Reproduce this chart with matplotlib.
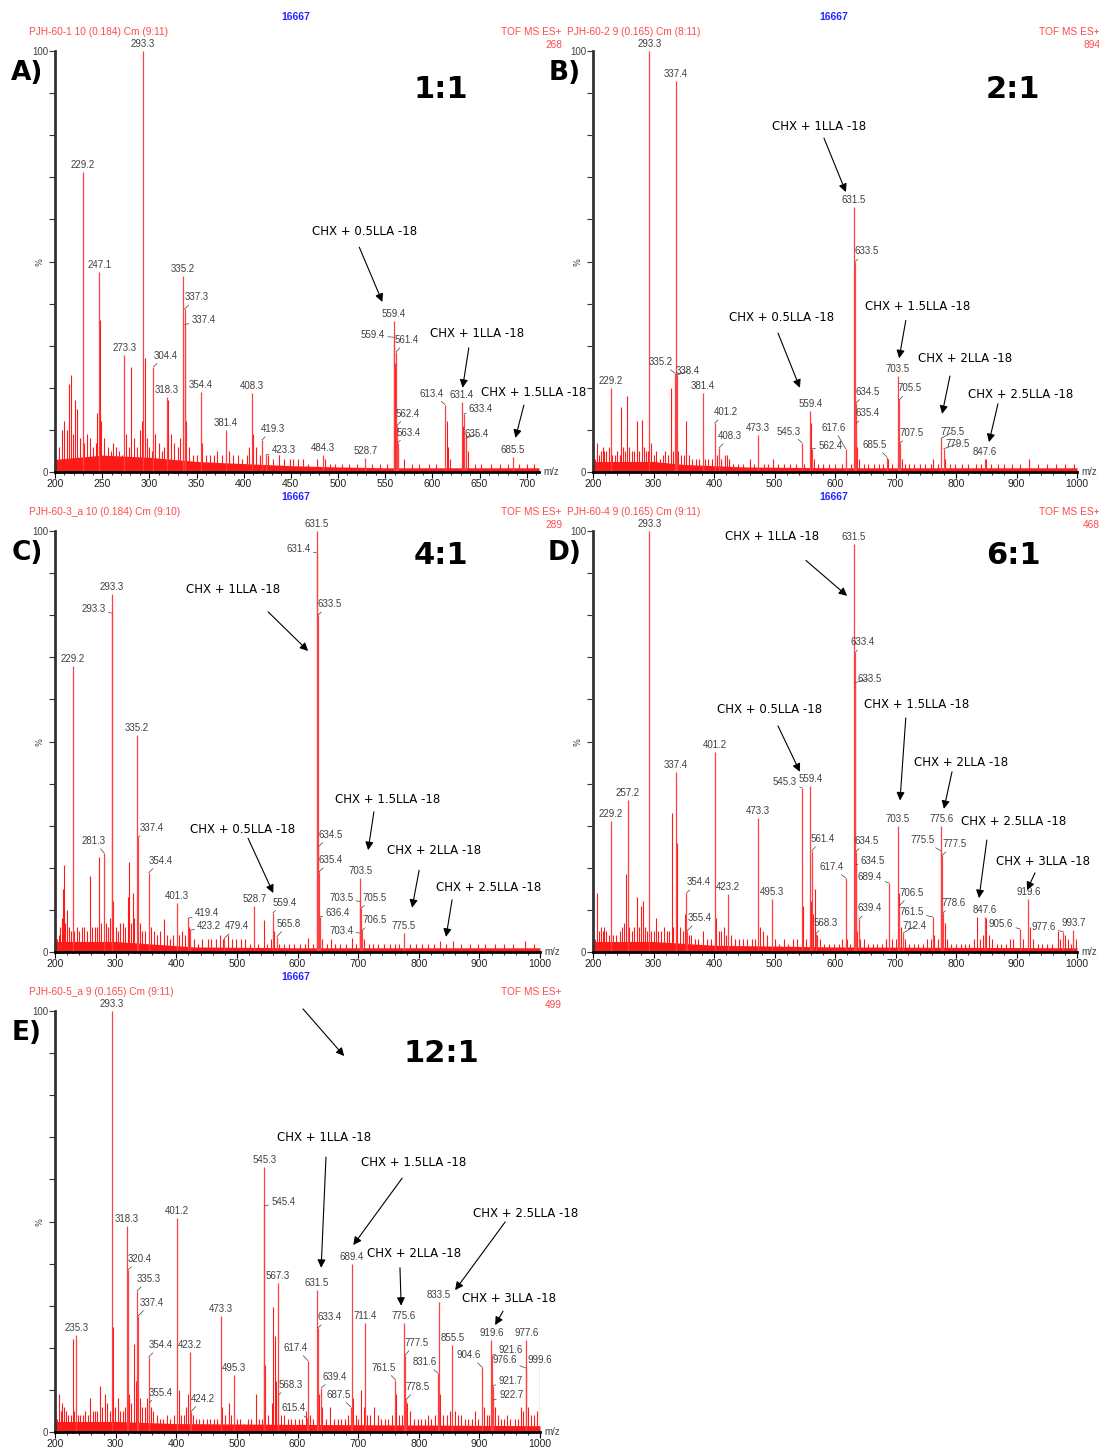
import matplotlib.pyplot as plt
from matplotlib.ticker import MultipleLocator

W, H = 1099, 1450
RED = '#ff1a1a'
PEAK_RED = '#ff4040'
GREY = '#404040'
LABEL_FONT = 'Liberation Sans'
NOTE_FONT = 'DejaVu Sans'

# ---------------- A) 1:1 ----------------
a_mz = [293.3, 229.2, 247.1, 273.3, 304.4, 318.3, 335.2, 337.3, 337.4, 354.4,
        381.4, 408.3, 419.3, 423.3, 484.3, 528.7, 559.4, 559.4, 561.4, 562.4,
        563.4, 613.4, 631.4, 633.4, 635.4, 685.5]
a_int = [100, 71.3, 47.5, 27.8, 25.0, 17.8, 46.5, 38.7, 35.0, 19.0,
         10.0, 18.8, 7.6, 4.0, 4.0, 3.3, 35.9, 32.0, 28.5, 11.0,
         7.0, 16.0, 16.6, 13.8, 8.0, 3.5]
a_minor = [(204, 6), (207, 10), (210, 12), (213, 10), (215, 21), (217, 23), (219, 9), (221, 17),
           (223, 15), (226, 8), (231, 7), (234, 9), (237, 8), (240, 6), (243, 7), (245, 14),
           (248, 36), (249, 12), (252, 8), (256, 6), (259, 5), (262, 7), (265, 6), (268, 5),
           (271, 4), (275, 9), (278, 6), (281, 25), (284, 8), (287, 6), (290, 10), (292, 12),
           (295, 27), (297, 8), (300, 6), (303, 5), (306, 9), (310, 7), (313, 5), (316, 6),
           (320, 17), (323, 9), (326, 7), (330, 6), (333, 8), (336, 17), (339, 12), (342, 6),
           (346, 4), (350, 4), (356, 7), (360, 4), (364, 4), (368, 4), (372, 5), (377, 4),
           (384, 5), (389, 4), (394, 4), (398, 3), (403, 4), (406, 6), (410, 9), (413, 6),
           (417, 4), (426, 4), (431, 3), (437, 4), (443, 3), (449, 3), (452, 3), (458, 3),
           (463, 3), (468, 2), (478, 3), (486, 3), (491, 2), (497, 2), (504, 2), (512, 2),
           (520, 2), (536, 2), (544, 2), (552, 2), (560, 26), (561, 13), (564, 5), (570, 3),
           (578, 2), (586, 2), (596, 2), (604, 2), (615, 12), (617, 6), (619, 3), (632, 11),
           (634, 8), (636, 9), (638, 5), (645, 2), (652, 2), (662, 2), (672, 2), (680, 2),
           (692, 2), (700, 2), (708, 2)]
a_floor = [(200, 3), (250, 4), (300, 3.5), (350, 2.5), (400, 2), (450, 1.5), (500, 1.2),
           (550, 1), (713, 1)]
a_notes = [("CHX + 0.5LLA -18", (528, 57.2), (522.5, 53.4), (547, 40.4)),
           ("CHX + 1LLA -18", (647, 33.0), (638.6, 29.5), (632, 20.0)),
           ("CHX + 1.5LLA -18", (707, 18.8), (697, 15.9), (688, 8.1))]

# ---------------- B) 2:1 ----------------
b_mz = [293.3, 337.4, 631.5, 633.5, 335.2, 338.4, 229.2, 381.4, 401.2, 408.3,
        473.3, 545.3, 559.4, 562.4, 617.6, 634.5, 635.4, 685.5, 703.5, 705.5,
        707.5, 775.5, 779.5, 847.6]
b_int = [100, 92.9, 63.0, 50.0, 23.5, 23.0, 20.0, 18.8, 11.6, 5.7,
         8.8, 7.0, 14.5, 5.5, 5.5, 16.4, 11.6, 3.6, 22.8, 17.0,
         6.9, 8.0, 5.5, 3.0]
b_minor = [(204, 3), (207, 7), (210, 4), (213, 5), (216, 6), (219, 5), (222, 5), (226, 6),
           (232, 4), (236, 4), (240, 5), (244, 4), (247, 15.4), (250, 6), (253, 5), (257, 18),
           (260, 6), (264, 5), (268, 5), (273, 12), (276, 5), (281, 12.4), (284, 6), (288, 5),
           (291, 5), (296, 7), (300, 4), (304, 5), (310, 3), (315, 4), (319, 5), (324, 4),
           (329, 20), (332, 5), (341, 5), (346, 4), (350, 4), (354, 12), (358, 4), (364, 3),
           (370, 3), (375, 3), (385, 3), (390, 3), (396, 3), (405, 4), (412, 3), (418, 4),
           (421, 4), (425, 3), (432, 2), (440, 2), (448, 2), (460, 3), (466, 2), (482, 2),
           (490, 2), (497, 3), (505, 2), (515, 2), (525, 2), (535, 2), (548, 2), (561, 11.6),
           (565, 3), (572, 2), (580, 2), (590, 2), (600, 2), (612, 2), (619, 3), (626, 2),
           (636, 6), (640, 3), (648, 2), (655, 2), (664, 2), (672, 2), (680, 2), (688, 3),
           (694, 2), (710, 3), (715, 2), (722, 2), (730, 2), (740, 2), (748, 2), (758, 2),
           (762, 3), (770, 2), (781, 3), (790, 2), (798, 2), (810, 2), (820, 2), (833, 2),
           (842, 2), (850, 3), (858, 2), (870, 2), (880, 2), (892, 2), (905, 2), (920, 3),
           (935, 2), (950, 2), (965, 2), (980, 2), (995, 2)]
b_floor = [(200, 2.5), (300, 2.5), (350, 1.8), (450, 1.2), (600, 1), (1000, 1)]
b_notes = [("CHX + 1LLA -18", (573.6, 82.0), (581.8, 79.3), (618, 66.5)),
           ("CHX + 0.5LLA -18", (512, 36.6), (505.8, 33.0), (542, 20.0)),
           ("CHX + 1.5LLA -18", (737, 39.4), (717, 36.0), (706, 27.0)),
           ("CHX + 2LLA -18", (815, 27.0), (790, 22.8), (777, 13.8)),
           ("CHX + 2.5LLA -18", (906, 18.5), (869.4, 16.2), (854.5, 7.1))]

# ---------------- C) 4:1 ----------------
c_mz = [631.5, 631.4, 633.5, 293.3, 293.3, 229.2, 335.2, 337.4, 281.3, 354.4,
        401.3, 419.4, 423.2, 479.4, 528.7, 559.4, 565.8, 634.5, 635.4, 636.4,
        703.5, 703.5, 705.5, 706.5, 703.4, 775.5]
c_int = [100, 94.8, 80.0, 85.0, 80.5, 68.0, 51.5, 27.3, 23.5, 18.8,
         11.6, 8.0, 5.2, 3.3, 11.0, 9.3, 3.6, 25.0, 19.0, 8.3,
         17.6, 12.0, 10.5, 5.2, 4.5, 4.5]
c_minor = [(203, 3), (206, 4), (209, 6), (211, 8), (213, 15), (215, 20.7), (217, 7), (220, 10),
           (223, 6), (226, 5), (232, 5), (236, 6), (240, 5), (244, 6), (248, 6), (252, 5),
           (257, 18), (261, 6), (266, 6), (270, 6), (273, 22.5), (276, 7), (284, 7), (288, 6),
           (291, 8), (296, 12), (300, 6), (304, 5), (308, 7), (312, 7), (316, 6), (320, 13),
           (322, 21.4), (325, 7), (328, 14), (331, 8), (340, 7), (344, 5), (348, 5), (358, 6),
           (363, 5), (368, 4), (374, 5), (380, 7.8), (385, 4), (390, 3), (395, 4), (405, 4),
           (410, 5), (414, 4), (421, 6), (430, 3), (436, 2), (443, 3), (452, 3), (458, 3),
           (465, 3), (472, 4), (477, 3), (485, 4), (492, 3), (498, 3), (507, 3), (514, 3),
           (522, 2), (535, 2), (545, 7.6), (550, 2), (556, 3), (561, 5), (570, 2), (578, 2),
           (586, 2), (595, 2), (604, 2), (612, 2), (617, 3.3), (625, 2), (640, 3), (648, 2),
           (655, 3), (662, 2), (670, 2), (680, 2), (690, 3.3), (697, 2), (710, 3), (718, 2),
           (725, 2), (733, 2), (742, 2), (752, 2), (760, 2), (768, 2), (785, 2), (795, 2),
           (805, 2), (815, 2), (825, 2), (835, 2.5), (845, 2), (857, 2.5), (870, 2), (885, 2),
           (898, 2), (910, 2), (925, 2), (940, 2), (955, 2), (975, 2.5), (990, 2), (1000, 2.5)]
c_floor = [(200, 2.5), (300, 2.5), (350, 2), (430, 1.2), (600, 1), (1000, 1)]
c_notes = [("CHX + 1LLA -18", (493.7, 86.0), (551.5, 80.8), (617.5, 71.5)),
           ("CHX + 0.5LLA -18", (510, 29.2), (518.5, 27.0), (560, 14.0)),
           ("CHX + 1.5LLA -18", (748, 36.3), (726, 33.3), (716.5, 24.2)),
           ("CHX + 2LLA -18", (825, 24.0), (800.6, 19.4), (789, 10.5)),
           ("CHX + 2.5LLA -18", (916, 15.4), (855, 12.4), (845, 3.6))]

# ---------------- D) 6:1 ----------------
d_mz = [293.3, 631.5, 633.4, 633.5, 401.2, 337.4, 257.2, 229.2, 545.3, 559.4,
        473.3, 561.4, 634.5, 634.5, 617.4, 689.4, 703.5, 706.5, 712.4, 775.6,
        775.5, 777.5, 778.6, 761.5, 354.4, 355.4, 423.2, 495.3, 568.3, 639.4,
        847.6, 905.6, 919.6, 977.6, 993.7]
d_int = [100, 97.0, 71.0, 64.0, 47.5, 42.8, 36.0, 31.0, 39.0, 39.4,
         31.8, 24.0, 23.8, 20.7, 17.6, 16.4, 30.0, 11.0, 4.5, 30.0,
         24.0, 23.0, 9.3, 8.3, 14.0, 5.0, 13.8, 12.6, 4.3, 7.8,
         8.3, 5.5, 12.6, 4.8, 5.2]
d_minor = [(204, 3), (207, 14), (210, 5), (213, 6), (216, 5), (219, 6), (222, 5), (226, 4),
           (233, 4), (238, 4), (244, 5), (248, 6), (251, 7), (254, 18.5), (260, 6), (264, 5),
           (268, 6), (273, 13), (276, 6), (279, 11), (282, 12), (286, 6), (290, 5), (296, 5),
           (300, 5), (304, 8), (308, 5), (313, 5), (318, 6), (322, 5), (326, 5), (330, 33),
           (333, 6), (339, 26), (343, 6), (348, 5), (352, 9), (358, 4), (362, 4), (368, 3),
           (374, 3), (382, 5), (389, 3), (395, 3), (404, 8), (408, 5), (412, 5), (416, 6),
           (420, 4), (428, 4), (435, 3), (441, 3), (448, 3), (455, 3), (462, 3), (468, 3),
           (476, 6), (481, 5), (487, 4), (500, 3), (507, 2), (515, 3), (522, 2), (530, 3),
           (537, 3), (547, 11), (552, 3), (560, 12), (564, 9), (567, 15), (570, 4), (575, 3),
           (582, 2), (590, 2), (598, 2), (606, 2), (612, 3), (620, 3), (625, 2), (637, 5),
           (642, 3), (648, 3), (655, 2), (662, 2), (670, 2), (678, 2), (684, 3), (695, 3),
           (700, 3), (705, 14), (709, 6), (716, 3), (722, 2), (730, 2), (738, 2), (746, 2),
           (752, 3), (758, 3), (764, 4), (770, 3), (781, 7), (785, 3), (792, 2), (800, 2),
           (808, 2), (815, 2), (822, 2), (830, 3), (835, 8.3), (840, 3), (845, 4), (850, 8),
           (855, 4), (860, 3), (868, 2), (875, 2), (882, 2), (890, 3), (895, 3), (910, 3),
           (922, 6), (928, 3), (935, 2), (942, 2), (950, 2), (958, 2), (968, 5), (972, 3),
           (980, 4), (985, 3), (990, 2), (998, 3)]
d_floor = [(200, 2.5), (300, 2.5), (400, 1.6), (600, 1.2), (1000, 1)]
d_notes = [("CHX + 1LLA -18", (496, 98.8), (552, 93.0), (620, 84.6)),
           ("CHX + 0.5LLA -18", (492.6, 57.7), (505.8, 53.7), (542, 42.8)),
           ("CHX + 1.5LLA -18", (735.5, 58.7), (717, 55.6), (707.4, 36.0)),
           ("CHX + 2LLA -18", (808, 45.0), (793.4, 42.8), (780, 34.0)),
           ("CHX + 2.5LLA -18", (896, 31.0), (851, 26.6), (838, 12.8)),
           ("CHX + 3LLA -18", (944, 21.6), (930.6, 18.8), (917.4, 14.7))]

# ---------------- E) 12:1 ----------------
e_mz = [293.3, 545.3, 545.4, 318.3, 401.2, 320.4, 335.3, 337.4, 235.3, 354.4,
        355.4, 423.2, 424.2, 473.3, 495.3, 567.3, 568.3, 615.4, 617.4, 631.5,
        633.4, 639.4, 687.5, 689.4, 711.4, 761.5, 775.6, 777.5, 778.5, 831.6,
        833.5, 855.5, 904.6, 919.6, 921.6, 921.7, 922.7, 976.6, 977.6, 999.6]
e_int = [100, 63.0, 53.7, 49.0, 50.8, 38.5, 33.5, 27.6, 23.0, 17.8,
         7.0, 19.0, 4.8, 27.6, 13.5, 35.4, 8.8, 3.3, 16.9, 33.7,
         24.7, 10.5, 6.0, 40.0, 26.0, 12.4, 26.0, 18.3, 7.6, 14.0,
         30.9, 20.7, 15.4, 21.9, 18.3, 11.0, 7.6, 15.2, 21.9, 15.4]
e_minor = [(204, 3), (207, 9), (210, 5), (212, 7), (215, 6), (218, 5), (222, 4), (226, 4),
           (229, 22), (232, 5), (238, 4), (242, 4), (246, 4), (250, 5), (254, 4), (258, 8),
           (262, 5), (266, 5), (270, 5), (274, 11), (278, 6), (282, 9), (286, 7), (290, 5),
           (296, 25), (299, 6), (304, 8), (308, 5), (312, 5), (316, 6), (322, 9), (326, 7),
           (330, 21), (333, 12), (340, 8), (344, 6), (348, 6), (352, 8), (358, 6), (362, 5),
           (368, 4), (373, 3), (378, 3), (385, 4), (390, 3), (396, 4), (404, 10), (408, 4),
           (412, 4), (416, 6), (419, 9), (428, 4), (432, 3), (438, 3), (444, 3), (450, 3),
           (456, 3), (462, 3), (468, 3), (476, 6), (480, 4), (487, 7), (490, 4), (500, 3),
           (505, 3), (512, 2), (518, 3), (524, 3), (531, 9), (537, 3), (541, 3), (547, 16),
           (552, 4), (558, 7), (560, 29.7), (563, 22.8), (565, 12), (572, 4), (578, 4),
           (584, 3), (590, 3), (596, 3), (602, 3), (608, 3), (614, 5), (620, 4), (625, 3),
           (636, 9), (641, 6), (647, 3), (654, 6), (660, 3), (666, 3), (672, 3), (678, 3),
           (684, 4), (692, 8), (696, 4), (700, 3), (705, 10), (709, 6), (714, 4), (720, 4),
           (726, 6), (732, 4), (738, 3), (744, 3), (750, 3), (756, 4), (763, 9), (767, 4),
           (772, 4), (781, 7), (786, 5), (792, 3), (798, 3), (804, 3), (810, 3), (815, 4),
           (820, 3), (826, 4), (835, 9), (840, 4), (846, 4), (852, 5), (859, 5), (864, 4),
           (870, 4), (876, 3), (882, 3), (888, 3), (893, 5), (898, 3), (908, 6), (912, 4),
           (916, 4), (925, 6), (930, 4), (935, 3), (940, 3), (945, 4), (950, 3), (958, 3),
           (963, 3), (968, 6), (972, 5), (980, 6), (985, 4), (990, 4), (995, 5)]
e_floor = [(200, 2.5), (300, 2.5), (400, 2), (600, 1.8), (1000, 1.5)]
e_notes = [("", None, (609, 100.5), (677, 89.3)),
           ("CHX + 1LLA -18", (644, 70.0), (647, 65.3), (639, 39.0)),
           ("CHX + 1.5LLA -18", (792, 64.0), (772.6, 60.3), (692, 44.4)),
           ("CHX + 2LLA -18", (792, 42.3), (769, 39.0), (771, 30.0)),
           ("CHX + 2.5LLA -18", (977, 51.8), (942.6, 49.9), (860, 33.7)),
           ("CHX + 3LLA -18", (949, 31.6), (939, 28.7), (926, 25.4))]

# leader-line offsets (pixels) for peak labels set to the side; None = label on top
a_off = [None, None, None, None, (12, 11), None, None, (12, 12), (19, 5), None,
         None, None, (11, 11), (18, 5), None, None, None, (-21, 2), (11, 12), (11, 12),
         (11, 10), (-13, 11), None, (17, 5), (11, 4), None]
b_off = [None, None, None, (11, 10), (-14, 11), (11, 4), None, None, (11, 11), (11, 12),
         None, (-13, 11), None, (18, 3), (-12, 21), (12, 11), (11, 10), (-12, 12), None, (11, 12),
         (12, 10), (11, 6), (14, 5), None]
c_off = [None, (-18, 4), (12, 11), None, (-18, 4), None, None, (13, 9), (-11, 12), (12, 12),
         None, (19, 5), (19, 4), (13, 12), None, (12, 10), (12, 13), (12, 12), (12, 12), (18, 4),
         None, (-19, 3), (13, 10), (13, 10), (-19, 2), None]
d_off = [None, None, (7, 11), (14, 4), None, None, None, None, (-17, 6), None,
         None, (11, 12), (11, 11), (17, 4), (-14, 11), (-19, 6), None, (12, 13), (12, 7), None,
         (-19, 11), (12, 11), (11, 10), (-21, 5), (12, 11), (13, 13), None, None, (10, 11), (11, 11),
         None, (-19, 5), None, (-20, 5), None]
e_off = [None, None, (19, 4), None, None, (12, 11), (12, 12), (13, 13), None, (12, 12),
         (12, 10), None, (12, 13), None, None, None, (12, 10), (-13, 10), (-12, 13), None,
         (12, 11), (13, 11), (-12, 12), None, None, (-12, 12), None, (11, 12), (12, 13), (-13, 11),
         None, None, (-13, 12), None, (18, 5), (18, 5), (18, 5), (-21, 8), None, None]

panels = [
    dict(letter='A)', ratio='1:1', sample='PJH-60-1 10 (0.184) Cm (9:11)', count='268',
         mz=a_mz, inten=a_int, off=a_off, minor=a_minor, floor=a_floor, notes=a_notes,
         box=(55, 51, 539, 472), xmax=713, major=50, minor_step=10, ratio_xy=(441, 90)),
    dict(letter='B)', ratio='2:1', sample='PJH-60-2 9 (0.165) Cm (8:11)', count='894',
         mz=b_mz, inten=b_int, off=b_off, minor=b_minor, floor=b_floor, notes=b_notes,
         box=(593, 51, 1077, 472), xmax=1000, major=100, minor_step=20, ratio_xy=(1013, 90)),
    dict(letter='C)', ratio='4:1', sample='PJH-60-3_a 10 (0.184) Cm (9:10)', count='289',
         mz=c_mz, inten=c_int, off=c_off, minor=c_minor, floor=c_floor, notes=c_notes,
         box=(55, 531, 540, 952), xmax=1000, major=100, minor_step=20, ratio_xy=(441, 556)),
    dict(letter='D)', ratio='6:1', sample='PJH-60-4 9 (0.165) Cm (9:11)', count='468',
         mz=d_mz, inten=d_int, off=d_off, minor=d_minor, floor=d_floor, notes=d_notes,
         box=(593, 531, 1077, 952), xmax=1000, major=100, minor_step=20, ratio_xy=(1013, 556)),
    dict(letter='E)', ratio='12:1', sample='PJH-60-5_a 9 (0.165) Cm (9:11)', count='499',
         mz=e_mz, inten=e_int, off=e_off, minor=e_minor, floor=e_floor, notes=e_notes,
         box=(55, 1011, 540, 1432), xmax=1000, major=100, minor_step=20, ratio_xy=(441, 1053)),
]

fig = plt.figure(figsize=(W / 100, H / 100), dpi=100)


def ftext(x, y, s, **kw):
    fig.text(x / W, 1 - y / H, s, **kw)


def draw_panel(p):
    left, top, right, bottom = p['box']
    ax = fig.add_axes([left / W, 1 - bottom / H, (right - left) / W, (bottom - top) / H])
    ax.patch.set_visible(False)
    ax.set_xlim(200, p['xmax'])
    ax.set_ylim(0, 100)

    # baseline grass and the unlabelled peaks
    fx, fy = zip(*p['floor'])
    ax.fill_between(fx, 0, fy, color=RED, lw=0)
    mx, my = zip(*p['minor'])
    ax.vlines(mx, 0, my, colors=RED, lw=0.8)
    ax.vlines(p['mz'], 0, p['inten'], colors=PEAK_RED, lw=0.9)

    for mz, val, off in zip(p['mz'], p['inten'], p['off']):
        label = f'{mz:.1f}'
        if off is None:
            ax.annotate(label, (mz, val), xytext=(0, 2), textcoords='offset pixels',
                        ha='center', va='bottom', fontsize=7, color=GREY, family=LABEL_FONT)
        else:
            ax.annotate(label, (mz, val), xytext=off, textcoords='offset pixels',
                        ha='center', va='center', fontsize=7, color=GREY, family=LABEL_FONT,
                        arrowprops=dict(arrowstyle='-', lw=0.5, color=GREY,
                                        shrinkA=0, shrinkB=0))

    for text, txy, tail, head in p['notes']:
        if text:
            ax.text(txy[0], txy[1], text, ha='center', va='center', fontsize=8.5,
                    family=NOTE_FONT, color='black')
        ax.annotate('', xy=head, xytext=tail, annotation_clip=False,
                    arrowprops=dict(arrowstyle='-|>', color='black', lw=0.8,
                                    mutation_scale=12, shrinkA=0, shrinkB=0))

    # axes styling
    for side in ('top', 'right'):
        ax.spines[side].set_visible(False)
    ax.spines['left'].set_linewidth(2)
    ax.spines['left'].set_color('#333333')
    ax.spines['bottom'].set_linewidth(2)
    ax.spines['bottom'].set_color('black')
    ax.set_yticks(range(0, 101, 10))
    ax.set_yticklabels(['0'] + [''] * 9 + ['100'])
    ax.tick_params(axis='y', direction='out', length=4, width=0.8, color='#333333',
                   labelsize=7, labelcolor=GREY, pad=1)
    for t in ax.get_yticklabels():
        t.set_family(LABEL_FONT)
    ax.xaxis.set_major_locator(MultipleLocator(p['major']))
    ax.xaxis.set_minor_locator(MultipleLocator(p['minor_step']))
    ax.tick_params(axis='x', which='major', direction='out', length=4, width=0.8,
                   labelsize=7.5, labelcolor='#222222', pad=1)
    ax.tick_params(axis='x', which='minor', direction='out', length=2, width=0.6)
    for t in ax.get_xticklabels():
        t.set_family(LABEL_FONT)
    ax.annotate('%', (0, 50), xycoords=ax.get_yaxis_transform(), xytext=(-15, 0),
                textcoords='offset pixels', fontsize=6, rotation=90, ha='center',
                va='center', color=GREY)
    ax.annotate('m/z', (1, 0), xycoords='axes fraction', xytext=(4, 0),
                textcoords='offset pixels', fontsize=7, ha='left', va='center',
                color=GREY, family=LABEL_FONT)

    # instrument header lines above the trace
    ftext(left + 241, top - 34, '16667', fontsize=7.5, color='#2525ff', ha='center',
          va='center', family=LABEL_FONT, weight='bold')
    ftext(left - 26, top - 19, p['sample'], fontsize=7.3, color='#ff4a4a', ha='left',
          va='center', family=LABEL_FONT)
    ftext(left + 507, top - 19, 'TOF MS ES+', fontsize=7.3, color='#ff4a4a', ha='right',
          va='center', family=LABEL_FONT)
    ftext(left + 507, top - 6, p['count'], fontsize=7.3, color='#ff4a4a', ha='right',
          va='center', family=LABEL_FONT)
    ftext(left - 28, top + 22, p['letter'], fontsize=19, weight='bold', ha='center',
          va='center', family=NOTE_FONT)
    rx, ry = p['ratio_xy']
    ftext(rx, ry, p['ratio'], fontsize=22, weight='bold', ha='center', va='center',
          family=NOTE_FONT)


for p in panels:
    draw_panel(p)

fig.savefig('out.png', dpi=100)
